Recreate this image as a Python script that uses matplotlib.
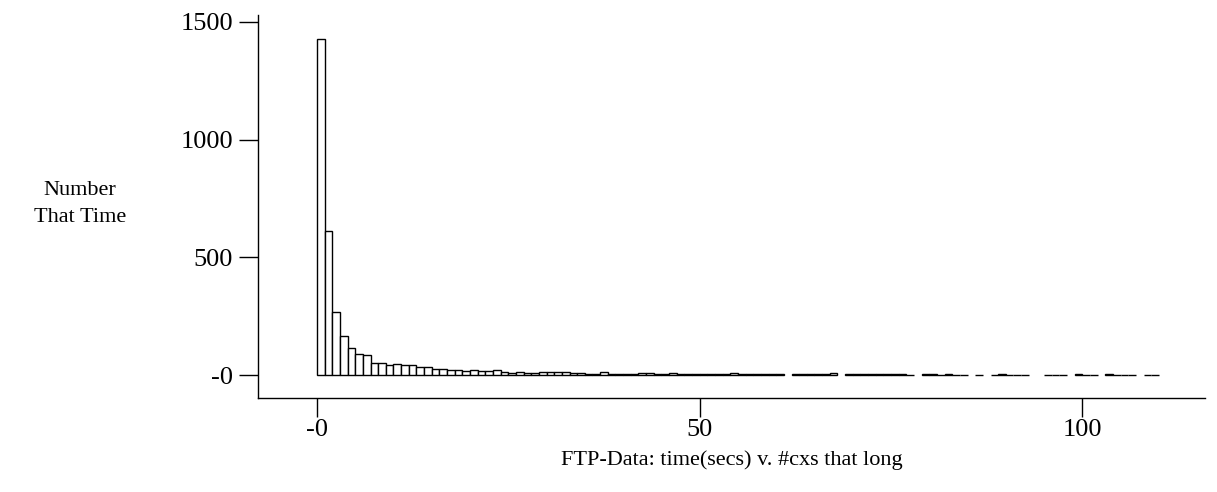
import matplotlib
matplotlib.use('Agg')
import matplotlib.pyplot as plt

plt.rcParams['font.family'] = ['Liberation Serif', 'DejaVu Serif']

# seconds bin (left edge, width 1) and number of connections lasting that long
bin_starts = list(range(110))
counts = [
    1428, 612, 267, 165, 117, 92, 86, 51, 51, 45,
    48, 42, 42, 35, 35, 28, 28, 22, 21, 19,
    21, 18, 18, 24, 15, 11, 13, 10, 11, 13,
    15, 13, 13, 8, 8, 7, 7, 12, 4, 7,
    7, 5, 10, 10, 7, 6, 10, 5, 7, 3,
    6, 5, 4, 4, 8, 7, 4, 4, 3, 3,
    3, 0, 4, 4, 6, 3, 4, 11, 0, 3,
    3, 5, 3, 3, 5, 3, 3, 2, 0, 3,
    3, 2, 3, 2, 2, 0, 2, 0, 2, 4,
    2, 2, 2, 0, 0, 2, 2, 2, 0, 3,
    2, 2, 0, 3, 2, 2, 2, 0, 2, 2,
]
x_ticks = [0, 50, 100]
x_tick_labels = ['-0', '50', '100']
y_ticks = [0, 500, 1000, 1500]
y_tick_labels = ['-0', '500', '1000', '1500']

fig = plt.figure(figsize=(12.17, 4.92), dpi=100)
ax = fig.add_axes([0.212, 0.191, 0.778, 0.779])

# empty bins are left as gaps
xs = [b for b, c in zip(bin_starts, counts) if c > 0]
hs = [c for c in counts if c > 0]
ax.bar(xs, hs, width=1.0, align='edge', facecolor='white',
       edgecolor='black', linewidth=1.0)

ax.set_xlim(-7.7, 116)
ax.set_ylim(-97, 1530)
ax.set_xticks(x_ticks)
ax.set_xticklabels(x_tick_labels)
ax.set_yticks(y_ticks)
ax.set_yticklabels(y_tick_labels)

for side in ['top', 'right']:
    ax.spines[side].set_visible(False)
for side in ['left', 'bottom']:
    ax.spines[side].set_linewidth(1.0)

ax.tick_params(axis='y', direction='out', length=14, width=1.0, pad=4, labelsize=19)
ax.tick_params(axis='x', direction='out', length=14, width=1.0, pad=1, labelsize=19)

ax.set_xlabel('FTP-Data: time(secs) v. #cxs that long', fontsize=16, labelpad=7)
fig.text(80 / 1217, 1 - 204 / 492, 'Number\nThat Time', ha='center', va='center',
         fontsize=16, multialignment='center', linespacing=1.6)

fig.savefig('out.png', dpi=100)
